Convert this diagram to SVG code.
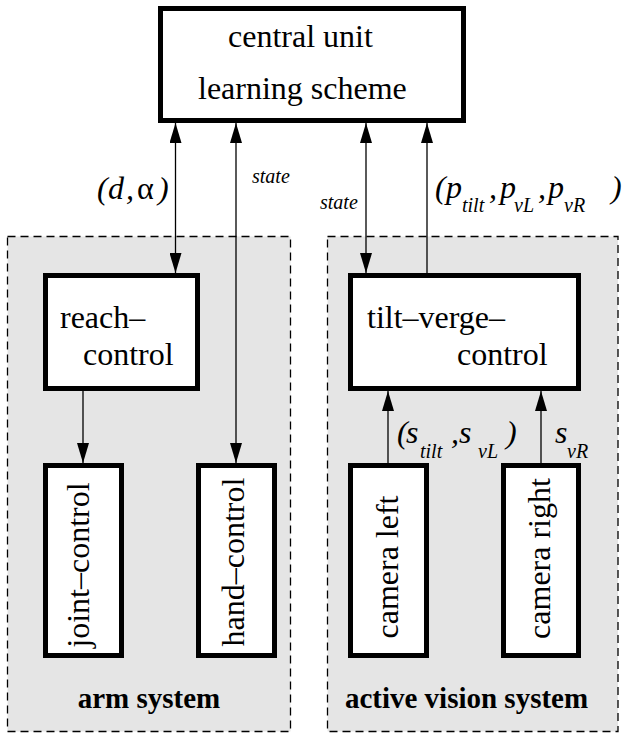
<svg xmlns="http://www.w3.org/2000/svg" width="624" height="733" viewBox="0 0 624 733">
<style>
.sys{fill:#e5e5e5;stroke:#000;stroke-width:1.3;stroke-dasharray:8,5}
.box{fill:#fff;stroke:#000;stroke-width:5}
.t{font-family:"Liberation Serif","Times New Roman",serif;font-size:32px;fill:#000}
.it{font-family:"Liberation Serif","Times New Roman",serif;font-style:italic;fill:#000}
.b{font-family:"Liberation Serif","Times New Roman",serif;font-weight:bold;font-size:29px;fill:#000}
.ln{stroke:#000;stroke-width:1.3;fill:none}
</style>
<defs>
<marker id="ah" markerUnits="userSpaceOnUse" markerWidth="20" markerHeight="12" refX="20" refY="6" orient="auto-start-reverse">
<path d="M0,0 L20,6 L0,12 z" fill="#000"/>
</marker>
</defs>
<g id="arm-system">
<rect class="sys" x="7.5" y="236.5" width="283" height="495"/>
<text class="b" x="149" y="708" text-anchor="middle">arm system</text>
</g>
<g id="vision-system">
<rect class="sys" x="327.5" y="236.5" width="290.5" height="495"/>
<text class="b" x="466.5" y="708" text-anchor="middle">active vision system</text>
</g>
<g id="central-unit">
<rect class="box" x="160.5" y="8.5" width="303" height="112"/>
<text class="t" x="228" y="47">central unit</text>
<text class="t" x="198" y="99">learning scheme</text>
</g>
<g id="reach-control">
<rect class="box" x="45.5" y="275.5" width="152" height="113"/>
<text class="t" x="60" y="328">reach–</text>
<text class="t" x="83" y="365">control</text>
</g>
<g id="tilt-verge-control">
<rect class="box" x="350.5" y="275.5" width="228" height="113"/>
<text class="t" x="367" y="328">tilt–verge–</text>
<text class="t" x="457" y="365">control</text>
</g>
<g id="joint-control">
<rect class="box" x="45.5" y="465.5" width="76" height="190"/>
<text class="t" x="89" y="565" text-anchor="middle" transform="rotate(-90 89 565)">joint–control</text>
</g>
<g id="hand-control">
<rect class="box" x="198.5" y="465.5" width="76" height="190"/>
<text class="t" x="244" y="562" text-anchor="middle" transform="rotate(-90 244 562)">hand–control</text>
</g>
<g id="camera-left">
<rect class="box" x="350.5" y="465.5" width="76" height="190"/>
<text class="t" x="398" y="567" text-anchor="middle" transform="rotate(-90 398 567)">camera left</text>
</g>
<g id="camera-right">
<rect class="box" x="503.5" y="465.5" width="75" height="190"/>
<text class="t" x="550" y="558.5" text-anchor="middle" transform="rotate(-90 550 558.5)">camera right</text>
</g>
<g id="connectors">
<line class="ln" x1="175.5" y1="123" x2="175.5" y2="273" marker-start="url(#ah)" marker-end="url(#ah)"/>
<line class="ln" x1="236" y1="123" x2="236" y2="463" marker-start="url(#ah)" marker-end="url(#ah)"/>
<line class="ln" x1="366" y1="123" x2="366" y2="273" marker-start="url(#ah)" marker-end="url(#ah)"/>
<line class="ln" x1="427" y1="273" x2="427" y2="123" marker-end="url(#ah)"/>
<line class="ln" x1="83" y1="391" x2="83" y2="463" marker-end="url(#ah)"/>
<line class="ln" x1="388" y1="463" x2="388" y2="391" marker-end="url(#ah)"/>
<line class="ln" x1="541" y1="463" x2="541" y2="391" marker-end="url(#ah)"/>
</g>
<g id="labels">
<text class="it" font-size="32"><tspan x="97" y="199">(</tspan><tspan x="108" y="199">d</tspan><tspan x="126" y="199">,</tspan><tspan x="137" y="199" font-style="normal">α</tspan><tspan x="158" y="199">)</tspan></text>
<text class="it" font-size="20" x="252" y="183">state</text>
<text class="it" font-size="20" x="320" y="209">state</text>
<text class="it" font-size="32"><tspan x="435" y="198">(</tspan><tspan x="446" y="198">p</tspan><tspan x="462" y="212" font-size="20">tilt</tspan><tspan x="489" y="198">,</tspan><tspan x="500" y="198">p</tspan><tspan x="514" y="212" font-size="20">vL</tspan><tspan x="538" y="198">,</tspan><tspan x="548" y="198">p</tspan><tspan x="564" y="212" font-size="20">vR</tspan><tspan x="611" y="198">)</tspan></text>
<text class="it" font-size="32"><tspan x="397" y="443">(</tspan><tspan x="406" y="443">s</tspan><tspan x="420" y="458" font-size="20">tilt</tspan><tspan x="451" y="443">,</tspan><tspan x="459" y="443">s</tspan><tspan x="478" y="458" font-size="20">vL</tspan><tspan x="506" y="443">)</tspan></text>
<text class="it" font-size="32"><tspan x="555" y="443">s</tspan><tspan x="567" y="458" font-size="20">vR</tspan></text>
</g>
</svg>
